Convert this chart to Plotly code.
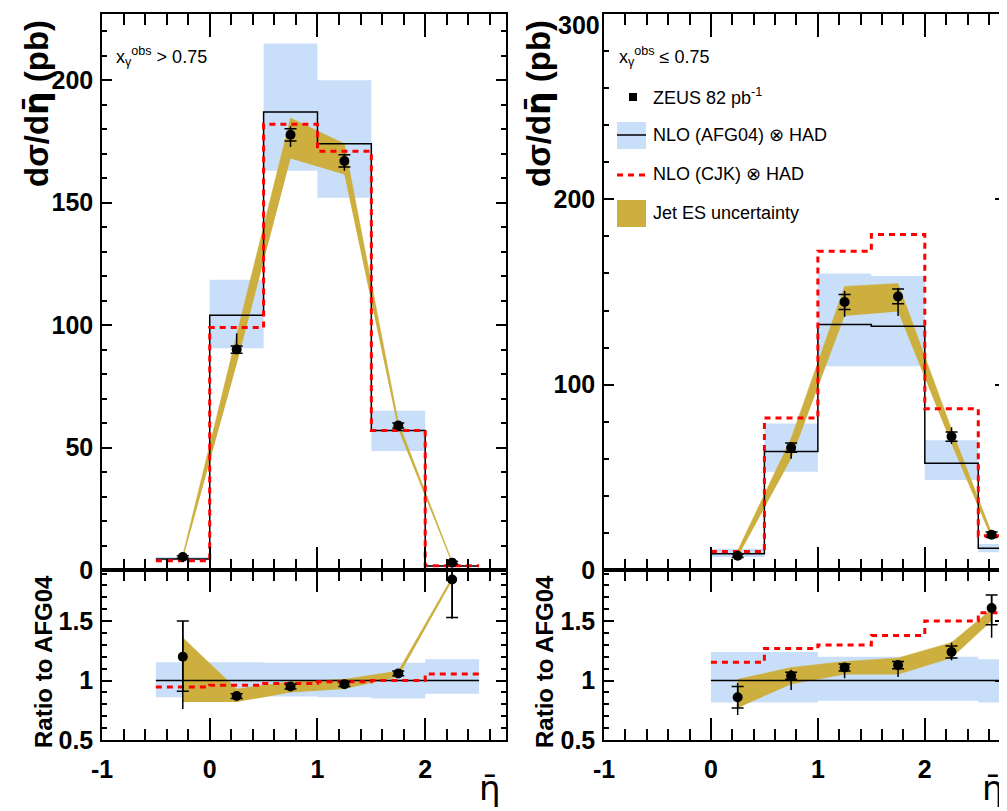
import plotly.graph_objects as go

# ---------------- data ----------------
# x_gamma^obs > 0.75 (left)
edges_hi = [-0.5, 0.0, 0.5, 1.0, 1.5, 2.0, 2.5]
centers_hi = [-0.25, 0.25, 0.75, 1.25, 1.75, 2.25]
afg_hi = [4.5, 104, 187, 174, 57, 1.6]
afg_hi_up = [5.3, 118.5, 215, 200, 65, 1.9]
afg_hi_dn = [3.9, 90.5, 163, 152, 48.6, 1.4]
cjk_hi = [3.8, 99, 182, 171, 57, 1.7]
data_hi = [5.3, 90, 177.7, 167, 59, 3.0]
stat_hi = [0.5, 1.5, 2.5, 2.5, 1.0, 0.5]
tot_up_hi = [1.0, 6.6, 3.5, 3.0, 1.5, 1.0]
tot_dn_hi = [1.0, 1.7, 5.0, 4.0, 1.5, 1.0]
jes_hi_up = [6.0, 96, 184.5, 174, 60.5, 3.5]
jes_hi_dn = [4.5, 84, 168, 161.5, 57.5, 2.5]

r_afg_hi = [1, 1, 1, 1, 1, 1]
r_afg_hi_up = [1.155, 1.155, 1.15, 1.15, 1.15, 1.18]
r_afg_hi_dn = [0.86, 0.86, 0.865, 0.86, 0.85, 0.89]
r_cjk_hi = [0.945, 0.96, 0.975, 0.99, 1.0, 1.055]
r_data_hi = [1.20, 0.87, 0.95, 0.97, 1.06, 1.85]
r_stat_up_hi = [0.30, 0.02, 0.02, 0.02, 0.02, 0.30]
r_stat_dn_hi = [0.29, 0.02, 0.02, 0.02, 0.02, 0.32]
r_tot_up_hi = [0.30, 0.02, 0.02, 0.03, 0.02, 0.40]
r_tot_dn_hi = [0.44, 0.02, 0.02, 0.03, 0.02, 0.33]
r_jes_hi_up = [1.36, 0.93, 0.99, 1.01, 1.08, 1.87]
r_jes_hi_dn = [0.82, 0.82, 0.90, 0.93, 1.03, 1.84]

# x_gamma^obs <= 0.75 (right)
edges_lo = [0.0, 0.5, 1.0, 1.5, 2.0, 2.5, 2.75]
centers_lo = [0.25, 0.75, 1.25, 1.75, 2.25, 2.625]
afg_lo = [8.8, 64, 132.5, 131.5, 57.6, 11.8]
afg_lo_up = [11.5, 79, 160, 158.6, 70, 14]
afg_lo_dn = [7, 53, 110, 110, 48.6, 9.6]
cjk_lo = [10, 82, 172, 181, 87, 18.5]
data_lo = [7.7, 66, 144.6, 147.6, 72, 19]
stat_lo = [1.0, 2.5, 4.0, 4.0, 2.5, 1.5]
tot_up_lo = [1.5, 3.0, 6.0, 4.5, 5.0, 2.0]
tot_dn_lo = [1.5, 6.0, 8.0, 10.5, 4.0, 2.0]
jes_lo_up = [10.5, 71, 153, 154.6, 76, 20]
jes_lo_dn = [7, 60, 137, 139.5, 68, 17]

r_afg_lo = [1, 1, 1, 1, 1, 1]
r_afg_lo_up = [1.24, 1.24, 1.20, 1.20, 1.20, 1.18]
r_afg_lo_dn = [0.815, 0.815, 0.83, 0.83, 0.83, 0.815]
r_cjk_lo = [1.154, 1.27, 1.30, 1.38, 1.50, 1.57]
r_data_lo = [0.86, 1.04, 1.11, 1.13, 1.24, 1.61]
r_stat_up_lo = [0.09, 0.03, 0.03, 0.03, 0.05, 0.11]
r_stat_dn_lo = [0.09, 0.03, 0.03, 0.03, 0.05, 0.14]
r_tot_up_lo = [0.12, 0.05, 0.03, 0.03, 0.08, 0.11]
r_tot_dn_lo = [0.15, 0.12, 0.09, 0.10, 0.07, 0.25]
r_jes_lo_up = [1.01, 1.11, 1.16, 1.19, 1.32, 1.60]
r_jes_lo_dn = [0.77, 0.97, 1.05, 1.05, 1.19, 1.50]

x_tickvals = [-1, 0, 1, 2]
x_ticktext = ["-1", "0", "1", "2"]
y_tickvals_lo = [0, 100, 200]
y_top_lo = 300          # top label of the right panel (kept inside the page)

legend_labels = ["ZEUS 82 pb<sup>-1</sup>", "NLO (AFG04) \u2297 HAD",
                 "NLO (CJK) \u2297 HAD", "Jet ES uncertainty"]

# ---------------- style ----------------
BLUE = "#C9DEF9"
GOLD = "#CCAF3E"
RED = "#FF0000"
FONT = "Liberation Sans, Arial, sans-serif"
ETA = "<span style='font-family:DejaVu Sans'>\u03b7\u0304</span>"

# the page body adds an 8px offset; work in page pixels
OFF = 8
W, H = 1007 - OFF, 811 - OFF
FL, FR, FT, FB = 102, 1005, 14, 740       # frame edges in page pixels
L, R, T, B = FL - OFF, W - (FR - OFF), FT - OFF, H - (FB - OFF)
PW, PH = W - L - R, H - T - B


def px(x):
    return (x - FL) / PW


def py(y):
    return (FB - y) / PH


def step(edges, vals):
    return list(edges), list(vals) + [vals[-1]]


fig = go.Figure()


def add_panel(xa, ya, edges, centers, afg, afg_up, afg_dn, cjk, dat,
              s_up, s_dn, t_up, t_dn, j_up, j_dn):
    ex, lo = step(edges, afg_dn)
    _, hi = step(edges, afg_up)
    fig.add_trace(go.Scatter(x=ex, y=lo, mode="lines", line=dict(width=0, shape="hv"),
                             xaxis=xa, yaxis=ya, showlegend=False, hoverinfo="skip"))
    fig.add_trace(go.Scatter(x=ex, y=hi, mode="lines", line=dict(width=0, shape="hv"),
                             fill="tonexty", fillcolor=BLUE,
                             xaxis=xa, yaxis=ya, showlegend=False, hoverinfo="skip"))
    fig.add_trace(go.Scatter(x=centers, y=j_dn, mode="lines", line=dict(width=0),
                             xaxis=xa, yaxis=ya, showlegend=False, hoverinfo="skip"))
    fig.add_trace(go.Scatter(x=centers, y=j_up, mode="lines", line=dict(width=0.5, color=GOLD),
                             fill="tonexty", fillcolor=GOLD,
                             xaxis=xa, yaxis=ya, showlegend=False, hoverinfo="skip"))
    _, a = step(edges, afg)
    fig.add_trace(go.Scatter(x=ex, y=a, mode="lines", line=dict(width=1.5, color="black", shape="hv"),
                             xaxis=xa, yaxis=ya, showlegend=False))
    _, c = step(edges, cjk)
    fig.add_trace(go.Scatter(x=ex, y=c, mode="lines",
                             line=dict(width=3, color=RED, shape="hv", dash="6px,5px"),
                             xaxis=xa, yaxis=ya, showlegend=False))
    fig.add_trace(go.Scatter(x=centers, y=dat, mode="markers",
                             marker=dict(size=1, color="black"),
                             error_y=dict(type="data", array=t_up, arrayminus=t_dn,
                                          color="black", thickness=1.5, width=0),
                             xaxis=xa, yaxis=ya, showlegend=False))
    fig.add_trace(go.Scatter(x=centers, y=dat, mode="markers",
                             marker=dict(size=10, color="black", symbol="circle"),
                             error_y=dict(type="data", array=s_up, arrayminus=s_dn,
                                          color="black", thickness=1.5, width=6),
                             xaxis=xa, yaxis=ya, showlegend=False))


add_panel("x", "y", edges_hi, centers_hi, afg_hi, afg_hi_up, afg_hi_dn, cjk_hi, data_hi,
          stat_hi, stat_hi, tot_up_hi, tot_dn_hi, jes_hi_up, jes_hi_dn)
add_panel("x2", "y2", edges_lo, centers_lo, afg_lo, afg_lo_up, afg_lo_dn, cjk_lo, data_lo,
          stat_lo, stat_lo, tot_up_lo, tot_dn_lo, jes_lo_up, jes_lo_dn)
add_panel("x3", "y3", edges_hi, centers_hi, r_afg_hi, r_afg_hi_up, r_afg_hi_dn, r_cjk_hi, r_data_hi,
          r_stat_up_hi, r_stat_dn_hi, r_tot_up_hi, r_tot_dn_hi, r_jes_hi_up, r_jes_hi_dn)
add_panel("x4", "y4", edges_lo, centers_lo, r_afg_lo, r_afg_lo_up, r_afg_lo_dn, r_cjk_lo, r_data_lo,
          r_stat_up_lo, r_stat_dn_lo, r_tot_up_lo, r_tot_dn_lo, r_jes_lo_up, r_jes_lo_dn)

xdom_l = [0, px(506)]
xdom_r = [px(604), 1]
ydom_t = [py(570), 1]
ydom_b = [0, py(570)]

tickfont = dict(family=FONT, size=25, color="black", weight="bold")


def xax(dom, anchor, labels, tlen, mlen):
    return dict(domain=dom, anchor=anchor, range=[-1, 2.75], showgrid=False, zeroline=False,
                automargin=False, ticklabeloverflow="allow",
                showline=True, linecolor="black", linewidth=1.5, mirror="allticks",
                ticks="inside", ticklen=tlen, tickwidth=1.5, tickcolor="black",
                tickvals=x_tickvals, ticktext=x_ticktext, showticklabels=labels,
                tickfont=tickfont, ticklabelstandoff=6,
                minor=dict(ticks="inside", ticklen=mlen, tickwidth=1.5, tickcolor="black",
                           dtick=0.2, tick0=-1, showgrid=False))


def yax(dom, anchor, rng, dt, mdt, tv=None):
    d = dict(domain=dom, anchor=anchor, range=rng, showgrid=False, zeroline=False,
             automargin=False, ticklabeloverflow="allow",
             showline=True, linecolor="black", linewidth=1.5, mirror="allticks",
             ticks="inside", ticklen=10, tickwidth=1.5, tickcolor="black",
             dtick=dt, tick0=0, tickfont=tickfont, ticklabelstandoff=2,
             minor=dict(ticks="inside", ticklen=5, tickwidth=1.5, tickcolor="black",
                        dtick=mdt, tick0=0, showgrid=False))
    if tv is not None:
        d["tickvals"] = tv
    return d


fig.update_layout(
    template="none",
    width=W, height=H, margin=dict(l=L, r=R, t=T, b=B, autoexpand=False),
    paper_bgcolor="white", plot_bgcolor="white", showlegend=False,
    xaxis=xax(xdom_l, "y", False, 23, 11),
    yaxis=yax(ydom_t, "x", [0, 227], 50, 10),
    xaxis2=xax(xdom_r, "y2", False, 23, 11),
    yaxis2=yax(ydom_t, "x2", [0, y_top_lo], 100, 20, y_tickvals_lo),
    xaxis3=xax(xdom_l, "y3", True, 22, 11),
    yaxis3=yax(ydom_b, "x3", [0.5, 1.93], 0.5, 0.1),
    xaxis4=xax(xdom_r, "y4", True, 22, 11),
    yaxis4=yax(ydom_b, "x4", [0.5, 1.93], 0.5, 0.1),
)

ann = []


def A(text, x, y, size, xanchor="left", bold=False, angle=0, yanchor="middle"):
    ann.append(dict(text=text, x=px(x), y=py(y), xref="paper", yref="paper",
                    xanchor=xanchor, yanchor=yanchor, showarrow=False, textangle=angle,
                    font=dict(family=FONT, size=size, color="black",
                              weight="bold" if bold else "normal")))


A("d\u03c3/d" + ETA + " (pb)", 36, 104, 33, "center", True, -90)
A("d\u03c3/d" + ETA + " (pb)", 538, 104, 33, "center", True, -90)
A("Ratio to AFG04", 43, 662, 24, "center", True, -90)
A("Ratio to AFG04", 544, 662, 24, "center", True, -90)
A(ETA, 503, 788, 34, "right", False)
A(ETA, 1006, 788, 34, "right", False)
A("x<sub>\u03b3</sub><sup>obs</sup> > 0.75", 114, 57, 18)
A("x<sub>\u03b3</sub><sup>obs</sup> \u2264 0.75", 617, 57, 18)
A(str(y_top_lo), 602, 8.5, 25, "right", True, 0, "top")
for lab, yy in zip(legend_labels, [97, 135, 174, 213]):
    A(lab, 651, yy, 18)

shapes = [
    dict(type="rect", x0=px(629), x1=px(637), y0=py(93), y1=py(101), xref="paper", yref="paper",
         fillcolor="black", line=dict(width=0)),
    dict(type="rect", x0=px(617), x1=px(646), y0=py(122), y1=py(149), xref="paper", yref="paper",
         fillcolor=BLUE, line=dict(width=0)),
    dict(type="line", x0=px(617), x1=px(646), y0=py(135), y1=py(135), xref="paper", yref="paper",
         line=dict(width=1.5, color="black")),
    dict(type="line", x0=px(617), x1=px(646), y0=py(175), y1=py(175), xref="paper", yref="paper",
         line=dict(width=3, color=RED, dash="6px,5px")),
    dict(type="rect", x0=px(617), x1=px(646), y0=py(200), y1=py(227), xref="paper", yref="paper",
         fillcolor=GOLD, line=dict(width=0)),
]
fig.update_layout(annotations=ann, shapes=shapes)

fig.write_html("out.html")
